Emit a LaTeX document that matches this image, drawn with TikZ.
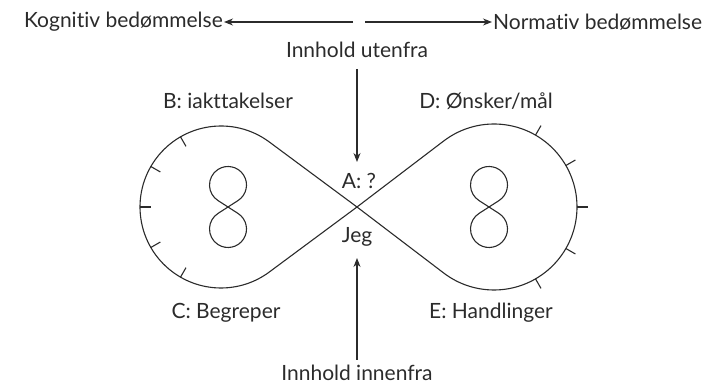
\documentclass[tikz,border=0pt]{standalone}
\usepackage{fontspec}
\setmainfont{Lato}[Ligatures={NoCommon}]
\usetikzlibrary{arrows.meta,calc}
\definecolor{ink}{HTML}{2B2B2B}
\tikzset{
  lbl/.style={font=\fontsize{21}{24}\selectfont, text=ink, inner sep=1pt},
  ln/.style={draw=ink, line width=1.1pt},
  arr/.style={ln, -{Stealth[length=9pt,width=7pt]}},
}
\begin{document}
\begin{tikzpicture}[x=1pt,y=1pt]
\useasboundingbox (0,0) rectangle (723,385);
% text nodes
\node[lbl, anchor=east] (kog) at (224,363) {Kognitiv bedømmelse};
\node[lbl, anchor=west] (nor) at (492,363) {Normativ bedømmelse};
\node[lbl] (ute) at (357,335) {Innhold utenfra};
\node[lbl] (B) at (228,284) {B: iakttakelser};
\node[lbl] (D) at (486,284) {D: Ønsker/mål};
\node[lbl] (A) at (359,204) {A: ?};
\node[lbl] (jeg) at (357,148) {Jeg};
\node[lbl] (C) at (226,72) {C: Begreper};
\node[lbl] (E) at (491,72) {E: Handlinger};
\node[lbl] (inn) at (357,12) {Innhold innenfra};
% arrows
\coordinate (tl) at (353,363);
\coordinate (tr) at (365,363);
\coordinate (dtop) at (357,316);
\coordinate (dend) at (357,223);
\coordinate (ubot) at (357,25);
\coordinate (uend) at (357,127);
\draw[arr] (tl) -- (kog.east);
\draw[arr] (tr) -- (nor.west);
\draw[arr] (dtop) -- (dend);
\draw[arr] (ubot) -- (uend);
% big figure eight
\coordinate (X) at (357,178);
\coordinate (CL) at (221,178);
\coordinate (CR) at (494,178);
\draw[ln] (X) -- ($(CL)+(53.45:81)$) arc[start angle=53.45, end angle=306.55, radius=81] -- cycle;
\draw[ln] (X) -- ($(CR)+(127.3:83)$) arc[start angle=127.3, end angle=-127.3, radius=83] -- cycle;
% ticks
\foreach \a in {120,150,180,210,240}
  \draw[ln] ($(CL)+(\a:81)$) -- ($(CL)+(\a:70)$);
\foreach \a in {60,30,0,-30,-60}
  \draw[ln] ($(CR)+(\a:83)$) -- ($(CR)+(\a:94)$);
% small figure eights
\foreach \sx in {228,489}{
  \coordinate (S) at (\sx,178);
  \coordinate (T) at (\sx,200);
  \coordinate (Bo) at (\sx,156);
  \draw[ln] (S) -- ($(T)+(-57.2:18.5)$) arc[start angle=-57.2, end angle=237.2, radius=18.5]
    -- (S) -- ($(Bo)+(57.2:18.5)$) arc[start angle=57.2, end angle=-237.2, radius=18.5] -- cycle;
}
\end{tikzpicture}
\end{document}
